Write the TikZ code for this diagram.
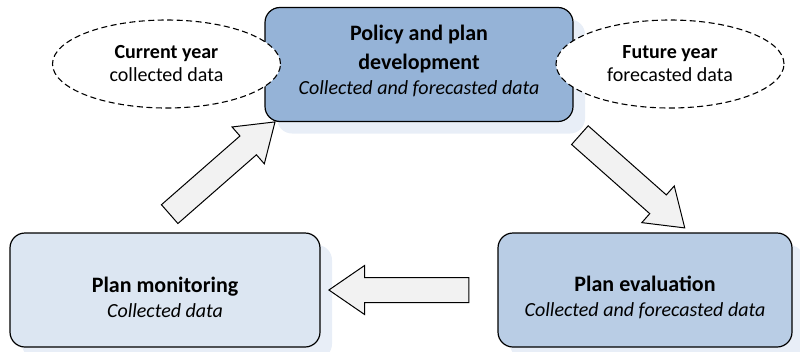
\documentclass[tikz,border=0pt]{standalone}
\usepackage{fontspec}
\setmainfont{Carlito}
\usetikzlibrary{shapes.geometric,shapes.arrows}
\definecolor{topfill}{HTML}{95B3D7}
\definecolor{evalfill}{HTML}{B9CDE5}
\definecolor{monfill}{HTML}{DCE6F2}
\definecolor{shadowc}{HTML}{E8EEF7}
\definecolor{arrowfill}{HTML}{F2F2F2}
\newcommand{\ttl}[1]{{\fontsize{22}{25}\selectfont\bfseries #1}}
\newcommand{\sub}[1]{{\itshape #1}}
\begin{document}
\begin{tikzpicture}[x=1pt,y=-1pt,
  stagebox/.style={draw=black, line width=1.2pt, rounded corners=15pt, minimum width=308pt, minimum height=114pt, inner sep=0pt},
  boxtext/.style={align=center, inner sep=0pt, font=\fontsize{20}{25}\selectfont},
  shadowbox/.style={fill=shadowc, rounded corners=15pt, minimum width=308pt, minimum height=114pt, inner sep=0pt},
  cloud/.style={ellipse, draw=black, dashed, dash pattern=on 6pt off 3.5pt, line width=1.1pt, fill=white, minimum width=228pt, minimum height=88pt, align=center, inner sep=0pt, font=\fontsize{20}{23}\selectfont},
  blockarrow/.style={single arrow, draw=black, line width=1pt, fill=arrowfill, minimum height=140pt, inner sep=12pt, single arrow head extend=12pt, single arrow tip angle=69, single arrow head indent=0pt}
]
\useasboundingbox (0,0) rectangle (800,351);
% shadows
\node[shadowbox] (topsh) at (431,76.5) {};
\node[shadowbox, minimum width=310pt] (monsh) at (177,302) {};
\node[shadowbox, minimum width=294pt] (evalsh) at (657,302) {};
% boxes
\node[stagebox, fill=topfill] (policy) at (419,64.5) {};
\node[boxtext] (policyt) at ([yshift=4pt]policy.center) {\ttl{Policy and plan}\\[4pt]\ttl{development}\\\sub{Collected and forecasted data}};
\node[stagebox, fill=monfill, minimum width=310pt] (monitor) at (165,290) {};
\node[boxtext] (monitort) at ([yshift=-7.5pt]monitor.center) {\ttl{Plan monitoring}\\\sub{Collected data}};
\node[stagebox, fill=evalfill, minimum width=294pt] (eval) at (645,290) {};
\node[boxtext] (evalt) at ([yshift=-7.5pt]eval.center) {\ttl{Plan evaluation}\\\sub{Collected and forecasted data}};
% ellipses
\node[cloud] (current) at (166.5,64) {\textbf{Current year}\\collected data};
\node[cloud] (future) at (670,64) {\textbf{Future year}\\forecasted data};
% arrows
\node[blockarrow, rotate=41.2] (a1) at (215.5,174) {};
\node[blockarrow, rotate=-41.5] (a2) at (625.5,175.5) {};
\node[blockarrow, rotate=180] (a3) at (408,290) {};
\end{tikzpicture}
\end{document}
